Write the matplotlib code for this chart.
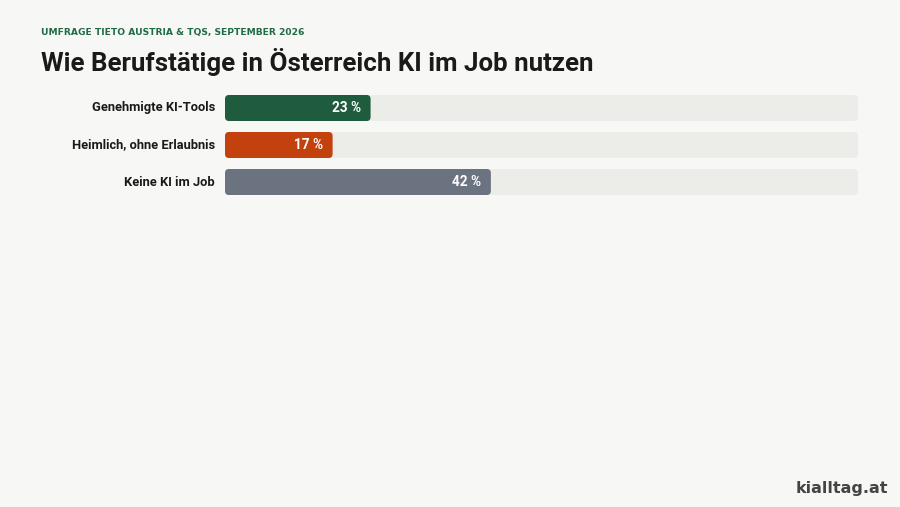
import matplotlib
matplotlib.use("Agg")
import matplotlib.pyplot as plt
from matplotlib.patches import FancyBboxPatch

categories = ["Genehmigte KI-Tools", "Heimlich, ohne Erlaubnis", "Keine KI im Job"]
values = [23, 17, 42]
colors = ["#1f5c3d", "#c2410c", "#6b7280"]

plt.rcParams['font.family'] = ['Roboto', 'DejaVu Sans']
W, H = 900, 507
fig = plt.figure(figsize=(9, 5.07), dpi=100, facecolor="#f7f7f5")

# axes in pixel layout: track from x=225 to 858, rows 37px apart
ax = fig.add_axes([225 / W, 1 - 200.5 / H, 633 / W, 111 / H])
ax.set_facecolor("none")
ax.set_xlim(0, 100)
ax.set_ylim(2.5, -0.5)
ax.axis("off")

h = 26 / 37
r = 4 * 100 / 633
asp = (1 / 37) / (100 / 633)

def rbar(x0, w, y, color):
    p = FancyBboxPatch((x0, y - h / 2), w, h,
                       boxstyle=f"round,pad=0,rounding_size={r}",
                       mutation_aspect=asp, fc=color, ec="none", clip_on=False)
    ax.add_patch(p)

for i, (cat, v, c) in enumerate(zip(categories, values, colors)):
    rbar(0, 100, i, "#ecece8")
    rbar(0, v, i, c)
    ax.text(v - 1.5, i, f"{v} %", ha="right", va="center", color="white",
            fontsize=9.8, fontweight="bold")
    ax.text(-1.6, i, cat, ha="right", va="center", color="#1a1a1a",
            fontsize=9.3, fontweight="bold")

fig.text(41 / W, 1 - 33 / H, "UMFRAGE TIETO AUSTRIA & TQS, SEPTEMBER 2026",
         color="#1f6b45", fontsize=6.6, fontweight="bold", va="center",
         family="DejaVu Sans")
fig.text(41 / W, 1 - 62 / H, "Wie Berufstätige in Österreich KI im Job nutzen",
         color="#1a1a1a", fontsize=18.6, fontweight="bold", va="center")
fig.text(888 / W, 1 - 488 / H, "kialltag.at", color="#444444",
         fontsize=11.5, fontweight="bold", ha="right", va="center",
         family="DejaVu Sans")

fig.savefig("out.png", dpi=100, facecolor=fig.get_facecolor())
